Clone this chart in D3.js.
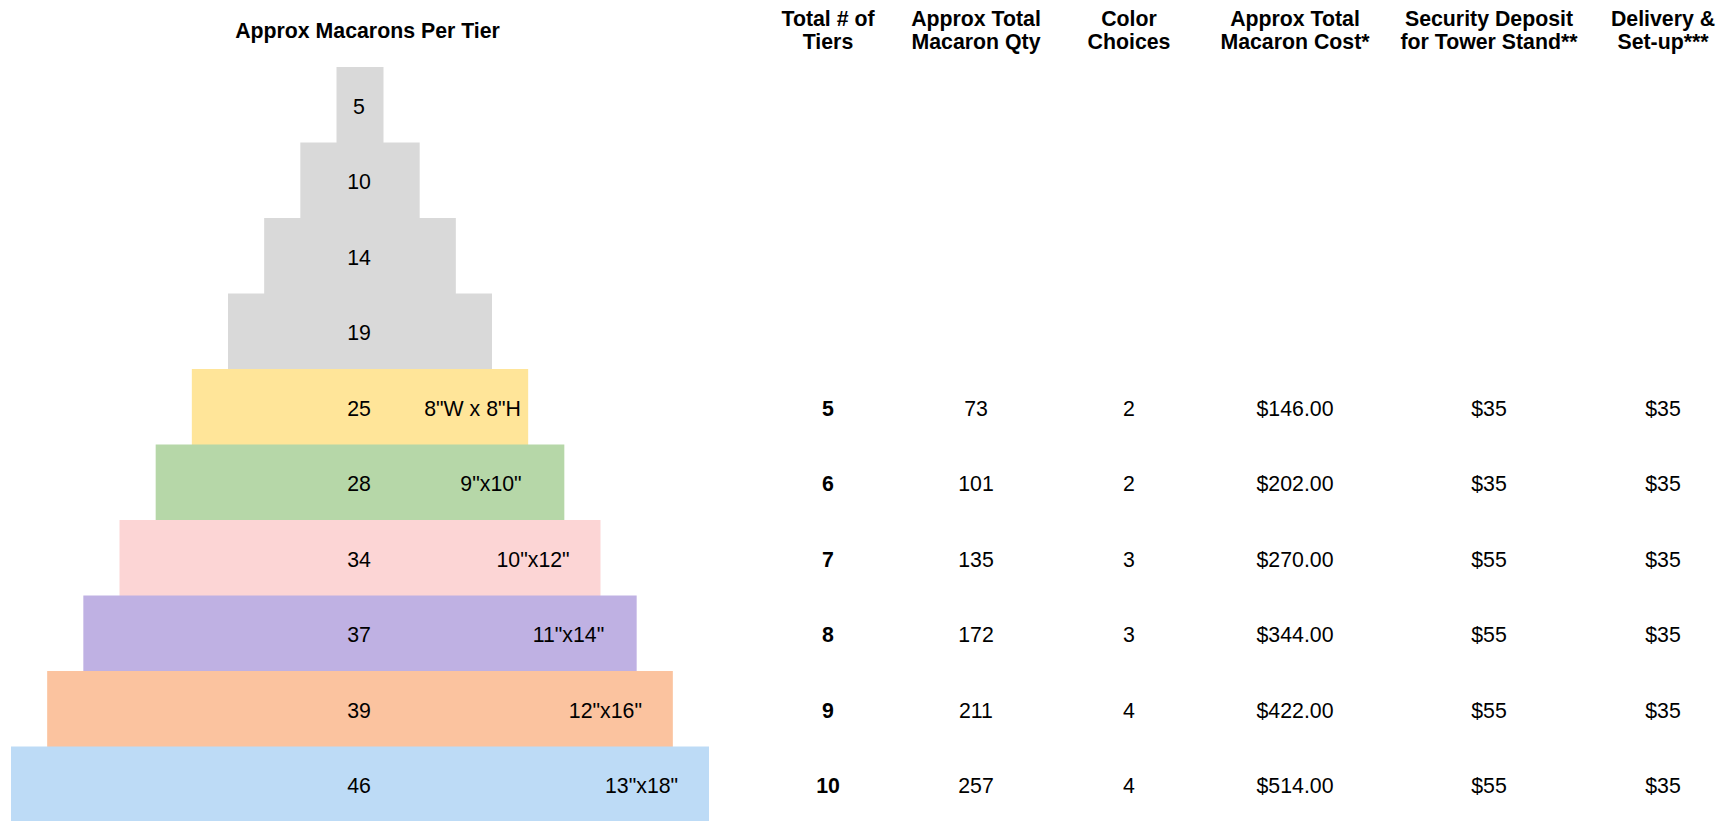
<!DOCTYPE html>
<html>
<head>
<meta charset="utf-8">
<script src="https://cdn.jsdelivr.net/npm/d3@7"></script>
<style>
  body { margin: 0; background: #fff; }
  svg text { font-family: Arial, "Liberation Sans", sans-serif; fill: #000; }
</style>
</head>
<body>
<div id="chart"></div>
<script>
// pyramid data, top tier first
const tierRanks = [1, 2, 3, 4, 5, 6, 7, 8, 9, 10];
const macaronsPerTier = [5, 10, 14, 19, 25, 28, 34, 37, 39, 46];
const standSizes = [null, null, null, null, '8"W x 8"H', '9"x10"', '10"x12"', '11"x14"', '12"x16"', '13"x18"'];

// table data
const headers = [
  ['Total # of', 'Tiers'],
  ['Approx Total', 'Macaron Qty'],
  ['Color', 'Choices'],
  ['Approx Total', 'Macaron Cost*'],
  ['Security Deposit', 'for Tower Stand**'],
  ['Delivery &', 'Set-up***']
];
const totalTiers = [5, 6, 7, 8, 9, 10];
const totalQty = [73, 101, 135, 172, 211, 257];
const colorChoices = [2, 2, 3, 3, 4, 4];
const totalCost = [146, 202, 270, 344, 422, 514];
const standDeposit = [35, 35, 55, 55, 55, 55];
const deliveryFee = [35, 35, 35, 35, 35, 35];

const tierColors = ['#d9d9d9', '#d9d9d9', '#d9d9d9', '#d9d9d9',
  '#ffe599', '#b6d7a8', '#fcd5d5', '#bfb1e3', '#fbc39f', '#bddbf6'];

const width = 1728, height = 821;
const fontSize = 21.3;
const cx = 360; // pyramid axis

const svg = d3.select('#chart').append('svg')
    .attr('width', width)
    .attr('height', height);

const y = d3.scaleBand()
    .domain(tierRanks)
    .range([67, 822])
    .padding(0);

const w = d3.scaleLinear()
    .domain([1, 10])
    .range([47, 698]);

// title
svg.append('text')
    .attr('x', 367.5)
    .attr('y', 37.7)
    .attr('text-anchor', 'middle')
    .style('font-size', fontSize + 'px')
    .style('font-weight', 'bold')
    .text('Approx Macarons Per Tier');

const tiers = tierRanks.map((r, i) => ({
  rank: r, count: macaronsPerTier[i], size: standSizes[i], color: tierColors[i]
}));

const tier = svg.append('g')
  .selectAll('g')
  .data(tiers)
  .enter().append('g');

tier.append('rect')
    .attr('x', d => cx - w(d.rank) / 2)
    .attr('y', d => y(d.rank))
    .attr('width', d => w(d.rank))
    .attr('height', y.bandwidth() + 0.5)
    .attr('fill', d => d.color);

const baseline = d => y(d) + y.bandwidth() / 2 + 9;

tier.append('text')
    .attr('x', cx - 1)
    .attr('y', d => baseline(d.rank))
    .attr('text-anchor', 'middle')
    .style('font-size', fontSize + 'px')
    .text(d => d.count);

tier.filter(d => d.size)
  .append('text')
    .attr('x', d => cx + w(d.rank) / 2 - 104)
    .attr('y', d => baseline(d.rank))
    .attr('text-anchor', 'start')
    .style('font-size', fontSize + 'px')
    .text(d => d.size);

// table columns
const colX = d3.scaleOrdinal()
    .domain(d3.range(headers.length))
    .range([828, 976, 1129, 1295, 1489, 1663]);

const head = svg.append('g')
  .selectAll('text')
  .data(headers)
  .enter().append('text')
    .attr('text-anchor', 'middle')
    .style('font-size', fontSize + 'px')
    .style('font-weight', 'bold');

head.each(function(lines, i) {
  d3.select(this).selectAll('tspan')
    .data(lines)
    .enter().append('tspan')
      .attr('x', colX(i))
      .attr('y', (d, j) => 25.7 + j * 23.6)
      .text(d => d);
});

const money2 = d3.format('$,.2f');
const money0 = d3.format('$,.0f');
const columns = [
  { values: totalTiers, fmt: String, bold: true },
  { values: totalQty, fmt: String },
  { values: colorChoices, fmt: String },
  { values: totalCost, fmt: money2 },
  { values: standDeposit, fmt: money0 },
  { values: deliveryFee, fmt: money0 }
];

const rowsG = svg.append('g');
columns.forEach((col, ci) => {
  rowsG.append('g')
    .selectAll('text')
    .data(col.values)
    .enter().append('text')
      .attr('x', colX(ci))
      .attr('y', (d, i) => baseline(totalTiers[i]))
      .attr('text-anchor', 'middle')
      .style('font-size', fontSize + 'px')
      .style('font-weight', col.bold ? 'bold' : 'normal')
      .text(d => col.fmt(d));
});
</script>
</body>
</html>
